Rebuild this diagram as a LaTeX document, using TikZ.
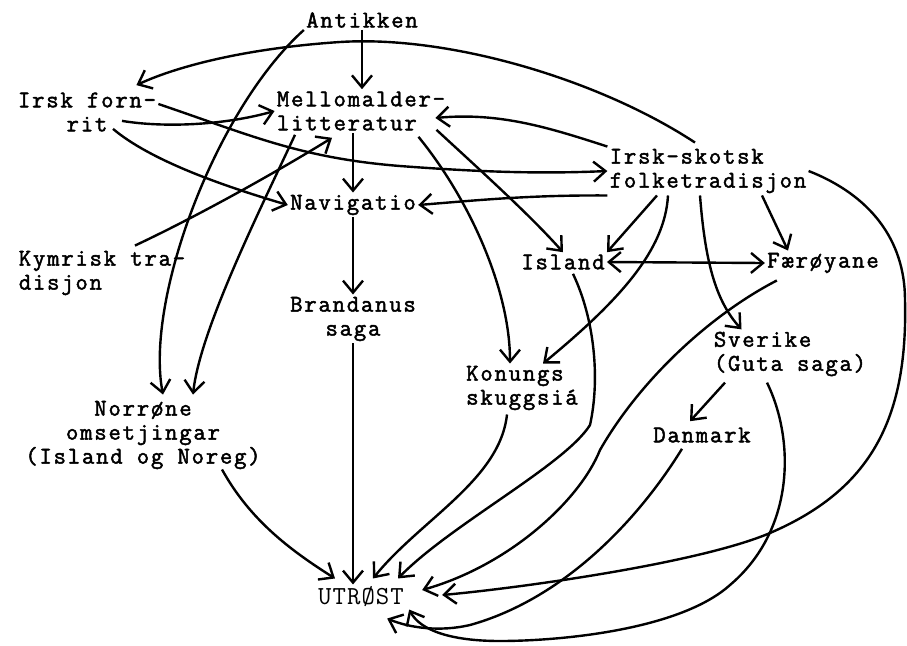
\documentclass[tikz,border=0pt]{standalone}
\usepackage{fontspec}
\newfontfamily\tyfont{Latin Modern Mono}[FakeBold=2, LetterSpace=7.5]
\newfontfamily\capfont{Latin Modern Mono}[LetterSpace=4]
\usetikzlibrary{arrows.meta}
\begin{document}
\begin{tikzpicture}[x=0.5pt, y=-0.5pt,
	lbl/.style={inner sep=1pt, font=\fontsize{12}{12}\selectfont\tyfont},
	pil/.style={line width=1.2pt, >={Straight Barb[length=6pt,width=10pt]}, ->}]
	\useasboundingbox (0,0) rectangle (907,645);
	\node[lbl] (ant) at (362,20) {Antikken};
	\node[lbl, align=center] (irsk) at (87,112) {Irsk forn-\\rit};
	\node[lbl, align=left] (mel) at (361,111) {Mellomalder-\\litteratur};
	\node[lbl, align=left] (isk) at (708,171) {Irsk-skotsk\\folketradisjon};
	\node[lbl] (nav) at (353,205) {Navigatio};
	\node[lbl, align=left] (kym) at (102,273) {Kymrisk tra-\\disjon};
	\node[lbl] (isl) at (563,262) {Island};
	\node[lbl] (fae) at (823,263) {Færøyane};
	\node[lbl, align=center] (bra) at (353,319) {Brandanus\\saga};
	\node[lbl, align=left] (sve) at (790,354) {Sverike\\(Guta saga)};
	\node[lbl, align=left] (kon) at (522,388) {Konungs\\skuggsiá};
	\node[lbl] (dan) at (702,435) {Danmark};
	\node[lbl, align=center] (nor) at (143,435) {Norrøne\\omsetjingar\\(Island og Noreg)};
	\node[lbl, font=\fontsize{13}{12}\selectfont\capfont] (utr) at (361,597) {UTRØST};

	\draw[pil] (ant.south) -- (ant.south |- mel.north);
	\draw[pil] (ant.south west) .. controls (215,110) and (145,300) .. ([shift={(20,-4)}]nor.north);
	\draw[pil] ([shift={(-66,2)}]mel.south) .. controls (260,210) and (200,330) .. ([shift={(50,-4)}]nor.north);
	\draw[pil] ([shift={(35,-13)}]irsk.south) .. controls (165,128) and (225,125) .. (mel.west);
	\draw[pil] ([shift={(0,-8)}]irsk.east) .. controls (250,135) and (300,158) .. (400,166) .. controls (480,172) and (540,174) .. (isk.west);
	\draw[pil] ([shift={(26,-5)}]irsk.south) .. controls (150,160) and (220,185) .. (nav.west);
	\draw[pil] ([shift={(-13,-4)}]isk.north) .. controls (600,80) and (450,35) .. (340,42) .. controls (250,48) and (180,65) .. ([shift={(-22,-5)}]irsk.north east);
	\draw[pil] (isk.north west) .. controls (550,128) and (500,112) .. ([shift={(-12,7)}]mel.east);
	\draw[pil] ([shift={(33,-3)}]kym.north) .. controls (200,215) and (280,170) .. ([shift={(-29,5)}]mel.south);
	\draw[pil] (mel.south -| nav.north) -- (nav.north);
	\draw[pil] (isk.south west) .. controls (530,195) and (480,200) .. (nav.east);
	\draw[pil] ([shift={(-29,4)}]mel.south east) .. controls (470,200) and (510,290) .. ([shift={(-12,0)}]kon.north);
	\draw[pil] ([shift={(-11,-3)}]mel.south east) .. controls (480,170) and (530,215) .. (isl.north);
	\draw[pil] ([shift={(-51,0)}]isk.south) -- (isl.north east);
	\draw[pil] ([shift={(-40,0)}]isk.south) .. controls (665,250) and (620,300) .. ([shift={(21,0)}]kon.north);
	\draw[pil] ([shift={(-8,0)}]isk.south) .. controls (705,260) and (715,300) .. ([shift={(30,0)}]sve.north west);
	\draw[pil] ([shift={(54,0)}]isk.south) -- ([shift={(-35,0)}]fae.north);
	\draw[pil, <->] (isl.east) -- (fae.west);
	\draw[pil] (isk.east) .. controls (870,195) and (905,240) .. (905,300) .. controls (908,420) and (870,490) .. (770,533) .. controls (700,563) and (520,588) .. ([shift={(36,-2)}]utr.east);
	\draw[pil] ([shift={(12,5)}]fae.south west) .. controls (710,315) and (640,380) .. (600,450) .. controls (580,500) and (510,565) .. ([shift={(16,-7)}]utr.east);
	\draw[pil] ([shift={(10,2)}]isl.south) .. controls (595,320) and (600,380) .. (590,425) .. controls (565,465) and (450,525) .. ([shift={(37,-6)}]utr.north);
	\draw[pil] ([shift={(-15,2)}]kon.south) .. controls (500,480) and (420,520) .. ([shift={(12,-6)}]utr.north);
	\draw[pil] (nav.south) -- (bra.north);
	\draw[pil] (bra.south) -- (bra.south |- utr.north);
	\draw[pil] ([shift={(79,-2)}]nor.south) .. controls (250,520) and (290,550) .. ([shift={(-26,-6)}]utr.north);
	\draw[pil] ([shift={(-20,4)}]dan.south) .. controls (635,525) and (560,600) .. (470,625) .. controls (440,632) and (410,628) .. ([shift={(-19,9)}]utr.south east);
	\draw[pil] ([shift={(-23,4)}]sve.south) .. controls (795,440) and (795,530) .. (730,585) .. controls (680,630) and (560,641) .. (500,641) .. controls (450,641) and (420,630) .. ([shift={(3,0)}]utr.south east);
	\draw[pil] ([shift={(-65,4)}]sve.south) -- ([shift={(-12,-4)}]dan.north);
\end{tikzpicture}
\end{document}
